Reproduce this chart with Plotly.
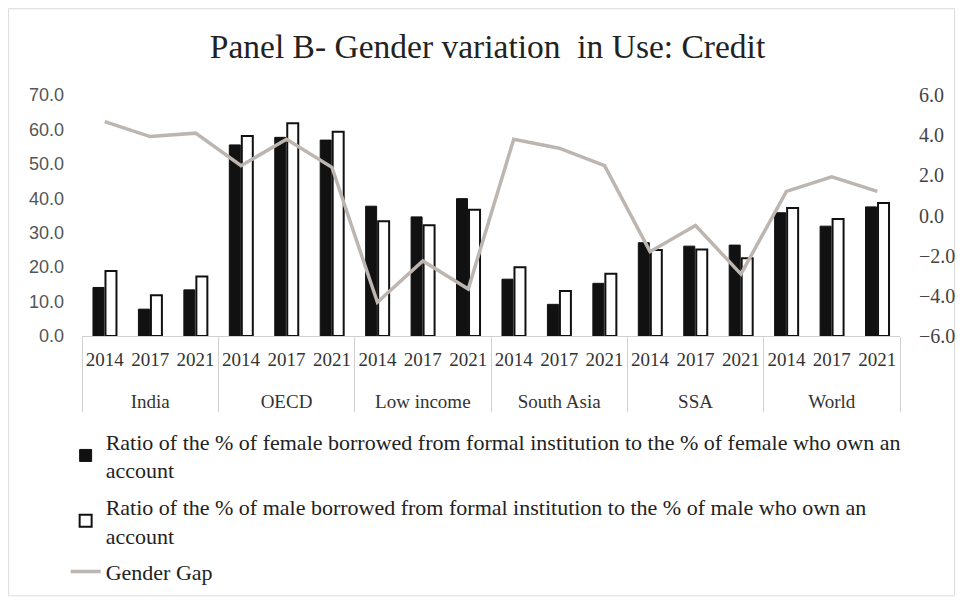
import plotly.graph_objects as go

regions = ["India", "OECD", "Low income", "South Asia", "SSA", "World"]
years = ["2014", "2017", "2021"]

female = [14.1, 7.8, 13.4,
          55.5, 57.7, 56.9,
          37.7, 34.6, 39.9,
          16.5, 9.2, 15.3,
          27.1, 26.1, 26.4,
          35.8, 31.9, 37.5]
male = [18.9, 11.8, 17.3,
        58.1, 61.8, 59.3,
        33.3, 32.2, 36.7,
        20.0, 13.1, 18.1,
        25.0, 25.1, 22.6,
        37.2, 34.0, 38.6]
gap = [4.67, 3.93, 4.10,
       2.48, 3.80, 2.40,
       -4.32, -2.26, -3.66,
       3.80, 3.35, 2.48,
       -1.80, -0.50, -2.92,
       1.20, 1.92, 1.20]

name_f = "Ratio of the % of female borrowed from formal institution to the % of female who own an<br>account"
name_m = "Ratio of the % of male borrowed from formal institution to the % of male who own an<br>account"
name_g = "Gender Gap"

# leading line break pushes the region row down, as in the reference
xcat = ["<br>" + r for r in regions for _ in years]
xyr = [y for _ in regions for y in years]
x = [xcat, xyr]

serif = "Liberation Serif, Times New Roman, serif"

fig = go.Figure()
fig.add_trace(go.Bar(x=x, y=female, name=name_f, legendgroup="f",
                     marker=dict(color="#111111", line=dict(color="#111111", width=1))))
fig.add_trace(go.Bar(x=x, y=male, name=name_m, legendgroup="m",
                     marker=dict(color="white", line=dict(color="#111111", width=2))))
fig.add_trace(go.Scatter(x=x, y=gap, name=name_g, yaxis="y2", mode="lines", legendgroup="g",
                         line=dict(color="#bdb5b0", width=3.5)))

fig.update_layout(
    width=959, height=596,
    paper_bgcolor="white", plot_bgcolor="white",
    margin=dict(l=74, r=60, t=87, b=266),
    title=dict(text="Panel B- Gender variation  in Use: Credit", x=0.5, xanchor="center",
               y=0.936, yanchor="middle",
               font=dict(family=serif, size=33.5, color="#222222")),
    barmode="group", bargap=0.45, bargroupgap=0.12,
    xaxis=dict(type="multicategory", showline=True, linecolor="#d0d0d0", linewidth=1,
               showdividers=True, dividercolor="#d0d0d0", dividerwidth=1,
               tickangle=0, ticklabelstandoff=6,
               tickfont=dict(family=serif, size=19, color="#333333"),
               showgrid=False, ticks=""),
    yaxis=dict(range=[0, 70], dtick=10, tickformat=".1f", showgrid=False, zeroline=False,
               showline=False, ticklabelstandoff=17,
               tickfont=dict(family="Liberation Sans, Arial, sans-serif", size=18, color="#555555")),
    yaxis2=dict(range=[-6, 6], dtick=2, tickformat=".1f", overlaying="y", side="right",
                showgrid=False, zeroline=False, showline=False, ticklabelstandoff=18,
                tickfont=dict(family=serif, size=20, color="#444444")),
    legend=dict(x=-0.02, xanchor="left", y=-0.35, yanchor="top", orientation="v",
                traceorder="grouped",
                font=dict(family=serif, size=22, color="#222222"),
                tracegroupgap=5, bgcolor="rgba(0,0,0,0)"),
    showlegend=True,
    shapes=[dict(type="rect", xref="paper", yref="paper", x0=-0.0897, x1=1.0667, y0=-1.078, y1=1.358,
                 line=dict(color="#dcdcdc", width=1), fillcolor="rgba(0,0,0,0)", layer="below")],
)

fig.write_html("out.html")
